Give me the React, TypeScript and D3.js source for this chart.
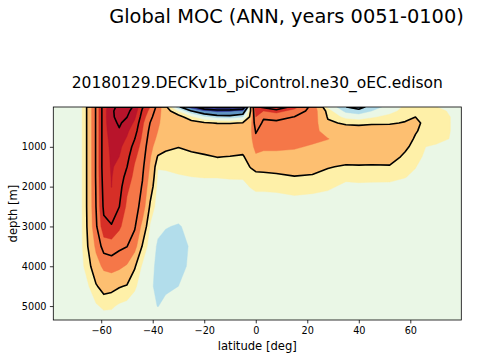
import { useEffect, useRef } from "react";
import * as d3 from "d3";

// grid of the overturning streamfunction [Sv], one depth profile per latitude
const latitudes = [-79, -68, -65, -62, -59, -56, -53, -50, -47, -44, -41, -38, -35, -30, -25, -20, -15, -10, -5, -2, 0, 3, 8, 15, 22, 28, 35, 40, 45, 52, 58, 62, 66, 70, 80];
const depths = [0, 100, 250, 400, 600, 800, 1000, 1250, 1500, 1750, 2000, 2500, 3000, 3500, 4000, 4500, 5000, 5350];
const mocProfiles = [
    [0, 0, 0, 0, 0, 0, 0, 0, 0, 0, 0, 0, 0, 0, 0, 0, 0, 0],
    [1, 1, 1, 1, 1, 1, 1, 1, 1, 1, 1, 1, 1, 1, 1, 0.5, 0, 0],
    [6, 6, 6, 6, 6, 6, 6, 6, 6, 6, 6, 6, 5.8, 5.2, 3.5, 1.8, 0.5, 0],
    [15.5, 15.5, 15.5, 15.5, 15.5, 15.5, 15.5, 15.5, 15.5, 15.5, 15.3, 15, 14, 11, 8, 4.5, 1.6, 0.4],
    [28, 28, 28, 28, 28, 28, 28, 28, 28, 27.5, 27, 26, 23.5, 17, 11, 6.5, 2.6, 0.6],
    [33, 34, 34, 33.5, 32.5, 31.5, 31, 30.6, 30.4, 30.2, 30.1, 28, 24.5, 17.5, 12, 6, 2.5, 0.5],
    [36.5, 37, 36.5, 35.5, 34.5, 32.5, 31, 30, 29, 28, 27, 25, 21, 16, 11, 5.2, 1.5, 0],
    [37, 36, 35, 33.5, 31, 29.5, 28, 26.5, 25, 23, 21, 19, 17, 15, 9.5, 4.6, 1, 0],
    [34, 33, 31, 29, 27, 25, 23, 21, 19.5, 18.5, 18, 17, 15.5, 12, 5.3, 2.5, 0.5, 0],
    [25.5, 24, 22.5, 21, 20, 19, 18, 17, 16, 15.2, 14.5, 13, 8.5, 4.5, 1.5, 0.5, 0, 0],
    [20, 18.5, 16.5, 14.8, 13.5, 12.5, 11.5, 10.5, 9.5, 8.5, 7.2, 4.2, 1.6, 0.5, -1, -1.6, -1.2, 0],
    [13, 12, 11, 10.5, 10, 9, 7.5, 4.5, 2.2, 1.5, 1, 0.5, -1, -2.6, -2.8, -2.6, -2.1, -0.5],
    [6, 7, 8, 8.5, 8.5, 8, 5.8, 3.8, 2.3, 1.5, 0.8, 0, -1.8, -3.2, -3.2, -2.6, -1.2, -0.3],
    [-4, 1.5, 6.5, 8, 8.5, 7.5, 5, 3.7, 2.6, 1.8, 1, 0, -2.3, -3.2, -2.8, -2, -0.6, 0],
    [-12, -5, 2.5, 6.5, 8, 7.5, 5.8, 4, 2.9, 2, 1.2, 0.3, -1, -1.6, -1.5, -0.8, -0.3, 0],
    [-22, -9, -1, 5.3, 8, 8, 6.5, 4.4, 3.2, 2.1, 1.3, 0.4, 0, -0.5, -0.5, -0.3, 0, 0],
    [-27, -11, -3, 4.7, 8.5, 8.5, 7, 5, 3.3, 2.1, 1.3, 0.4, 0, 0, 0, 0, 0, 0],
    [-27, -10.5, -3.5, 4.5, 9.5, 8.5, 7, 4.8, 3.5, 2.2, 1.4, 0.5, 0.1, 0, 0, 0, 0, 0],
    [-22, -9, -2, 5.2, 8.5, 8, 6, 4.6, 3.5, 2.2, 1.5, 0.5, 0.1, 0, 0, 0, 0, 0],
    [5, 5, 6, 8, 9, 8.5, 7.5, 6.2, 5.1, 3.2, 2.1, 0.7, 0.2, 0, 0, 0, 0, 0],
    [24, 22, 20, 18, 15.3, 14, 12, 9, 5.8, 4, 2.4, 0.8, 0.2, 0, 0, 0, 0, 0],
    [26, 20, 15.5, 14, 13.2, 12.5, 11, 8.5, 5.8, 4.2, 2.4, 0.8, 0.2, 0, 0, 0, 0, 0],
    [31, 22, 16, 14.2, 13.5, 13, 11, 8.5, 6, 4.4, 2.5, 0.8, 0.2, 0, 0, 0, 0, 0],
    [22, 18, 14.8, 14, 13, 12, 10.5, 8.5, 6.5, 4.8, 2.8, 1, 0.3, 0, 0, 0, 0, 0],
    [13, 13, 12.8, 12.5, 12, 11, 9.5, 8, 6, 4.6, 2.6, 0.9, 0.2, 0, 0, 0, 0, 0],
    [1, 3.5, 4.5, 5.5, 7.5, 10.2, 8, 7, 5.2, 3.5, 2.3, 0.8, 0.2, 0, 0, 0, 0, 0],
    [-5, -3, 1, 4.4, 6.5, 7.5, 8, 7, 4.4, 2.4, 1.6, 0.5, 0.1, 0, 0, 0, 0, 0],
    [-6.5, -4, 0, 4.2, 6.5, 7.5, 8, 7, 4.5, 2.6, 1.6, 0.5, 0.1, 0, 0, 0, 0, 0],
    [-3.5, -2, 1.5, 4.5, 6.5, 7.5, 8, 6.5, 4.5, 2.5, 1.6, 0.4, 0.1, 0, 0, 0, 0, 0],
    [-0.8, 0.8, 3, 4.6, 6.5, 8, 8, 6.5, 4.6, 2.6, 1.5, 0.4, 0.1, 0, 0, 0, 0, 0],
    [2.8, 3.2, 4.2, 5.1, 7, 6.8, 5.6, 4.2, 3, 2.1, 1.3, 0.4, 0.1, 0, 0, 0, 0, 0],
    [3.5, 4, 4.9, 6, 5.3, 4.4, 3.7, 2.9, 2.1, 1.5, 1, 0.3, 0, 0, 0, 0, 0, 0],
    [3, 3.5, 3.8, 3.8, 3.5, 3, 2, 1.5, 1, 0.7, 0.5, 0.2, 0, 0, 0, 0, 0, 0],
    [2.1, 2.8, 3, 3, 3, 2.8, 1.6, 1, 0.5, 0.3, 0.2, 0, 0, 0, 0, 0, 0, 0],
    [0, 0.8, 1.2, 1.2, 1.2, 1.2, 0.5, 0.3, 0, 0, 0, 0, 0, 0, 0, 0, 0, 0],
];

const colorbarLevels = [-20, -10, -5, -2, 2, 5, 10, 20, 30, 40];
const bandColors = ["#313695", "#6095c5", "#b2ddeb", "#eaf7e6", "#fef0a8", "#fdbf71", "#f57748", "#d62f27", "#b8142b"];
const lineLevels = [-25.1, -15.1, -5.1, 4.9, 14.9, 24.9, 34.9];
const latTicks = [-60, -40, -20, 0, 20, 40, 60];
const depthTicks = [1000, 2000, 3000, 4000, 5000];

const title = "Global MOC (ANN, years 0051-0100)";
const subtitle = "20180129.DECKv1b_piControl.ne30_oEC.edison";
const font = "DejaVu Sans, sans-serif";

const App = () => {
    const svgRef = useRef(null);

    const drawChart = () => {
        const svg = d3.select(svgRef.current);
        svg.selectAll("*").remove();

        const plot = { left: 53.3, right: 461.3, top: 107, bottom: 320 };
        const x = d3.scaleLinear([-78.6, 79.8], [plot.left, plot.right]);
        const y = d3.scaleLinear([0, 5350], [plot.top, plot.bottom]);

        // grid index -> data coordinates (non uniform grid)
        const n = latitudes.length;
        const m = depths.length;
        const iLat = d3.scaleLinear().domain(latitudes.map((d, i) => i)).range(latitudes).clamp(true);
        const iDep = d3.scaleLinear().domain(depths.map((d, i) => i)).range(depths).clamp(true);

        const values = [];
        for (let j = 0; j < m; j++) {
            for (let i = 0; i < n; i++) values.push(mocProfiles[i][j]);
        }
        const negValues = values.map((v) => -v);

        const transform = d3.geoTransform({
            point: function (px, py) {
                this.stream.point(x(iLat(px - 0.5)), y(iDep(py - 0.5)));
            },
        });
        const path = d3.geoPath(transform);
        const contours = d3.contours().size([n, m]);

        svg.append("defs")
            .append("clipPath")
            .attr("id", "plotClip")
            .append("rect")
            .attr("x", plot.left)
            .attr("y", plot.top)
            .attr("width", plot.right - plot.left)
            .attr("height", plot.bottom - plot.top);

        const g = svg.append("g").attr("clip-path", "url(#plotClip)");

        const zeroBand = colorbarLevels.findIndex((l) => l > 0) - 1;
        g.append("rect")
            .attr("x", plot.left)
            .attr("y", plot.top)
            .attr("width", plot.right - plot.left)
            .attr("height", plot.bottom - plot.top)
            .attr("fill", bandColors[zeroBand]);

        // positive bands, stacked from low to high
        colorbarLevels.forEach((level, k) => {
            if (level <= 0 || k >= bandColors.length) return;
            g.append("path")
                .attr("d", path(contours.contour(values, level)))
                .attr("fill", bandColors[k])
                .attr("stroke", bandColors[k])
                .attr("stroke-width", 0.4);
        });
        // negative bands on the flipped field
        colorbarLevels.slice().reverse().forEach((level) => {
            const k = colorbarLevels.indexOf(level);
            if (level >= 0 || k === 0) return;
            const c = bandColors[k - 1];
            g.append("path")
                .attr("d", path(contours.contour(negValues, -level)))
                .attr("fill", c)
                .attr("stroke", c)
                .attr("stroke-width", 0.4);
        });

        lineLevels.forEach((level) => {
            const c = level > 0 ? contours.contour(values, level) : contours.contour(negValues, -level);
            g.append("path")
                .attr("d", path(c))
                .attr("fill", "none")
                .attr("stroke", "black")
                .attr("stroke-width", 1.6)
                .attr("stroke-linejoin", "round");
        });

        // axes
        const xAxis = svg.append("g")
            .attr("transform", `translate(0, ${plot.bottom})`)
            .call(d3.axisBottom(x).tickValues(latTicks).tickSize(3.4).tickPadding(4.2));
        const yAxis = svg.append("g")
            .attr("transform", `translate(${plot.left}, 0)`)
            .call(d3.axisLeft(y).tickValues(depthTicks).tickFormat(d3.format("d")).tickSize(3.4).tickPadding(3.4));
        [xAxis, yAxis].forEach((a) => {
            a.select(".domain").remove();
            a.selectAll("line").attr("stroke", "black").attr("stroke-width", 0.8);
            a.selectAll("text")
                .style("font-family", font)
                .style("font-size", "9.7px")
                .attr("fill", "black");
        });

        svg.append("rect")
            .attr("x", plot.left)
            .attr("y", plot.top)
            .attr("width", plot.right - plot.left)
            .attr("height", plot.bottom - plot.top)
            .attr("fill", "none")
            .attr("stroke", "black")
            .attr("stroke-width", 0.8);

        svg.append("text")
            .attr("x", (plot.left + plot.right) / 2)
            .attr("y", 350)
            .attr("text-anchor", "middle")
            .style("font-family", font)
            .style("font-size", "11.6px")
            .text("latitude [deg]");

        svg.append("text")
            .attr("transform", `translate(16.5, ${(plot.top + plot.bottom) / 2}) rotate(-90)`)
            .attr("text-anchor", "middle")
            .style("font-family", font)
            .style("font-size", "11.6px")
            .text("depth [m]");

        svg.append("text")
            .attr("x", (plot.left + plot.right) / 2)
            .attr("y", 88)
            .attr("text-anchor", "middle")
            .style("font-family", font)
            .style("font-size", "15.5px")
            .text(subtitle);

        svg.append("text")
            .attr("x", 286.5)
            .attr("y", 23)
            .attr("text-anchor", "middle")
            .style("font-family", font)
            .style("font-size", "19.4px")
            .text(title);
    };

    useEffect(() => {
        drawChart();
    }, []);

    return (
        <svg
            ref={svgRef}
            width={480}
            height={360}
            style={{ position: "absolute", left: 0, top: 0, background: "white" }}
        ></svg>
    );
};

export default App;
